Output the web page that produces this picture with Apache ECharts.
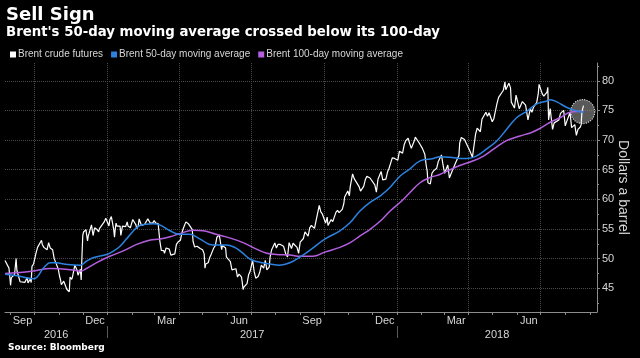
<!DOCTYPE html>
<html><head><meta charset="utf-8">
<script src="https://cdn.jsdelivr.net/npm/echarts@6/dist/echarts.min.js"></script>
<style>html,body{margin:0;padding:0;background:#000;}#c{width:640px;height:358px;}</style>
</head><body><div id="c"></div>
<script>
// ---------- DATA ----------
const seriesNames = ['Brent crude futures', 'Brent 50-day moving average', 'Brent 100-day moving average'];

const priceDates = [
'2016-08-25','2016-08-26','2016-08-30','2016-08-31','2016-09-01','2016-09-02','2016-09-06','2016-09-08','2016-09-09','2016-09-13','2016-09-15','2016-09-19','2016-09-20','2016-09-22','2016-09-23','2016-09-26','2016-09-27','2016-09-28','2016-09-30',
'2016-10-03','2016-10-05','2016-10-07','2016-10-10','2016-10-11','2016-10-13','2016-10-17','2016-10-19','2016-10-21','2016-10-24','2016-10-26','2016-10-28','2016-10-31',
'2016-11-01','2016-11-02','2016-11-03','2016-11-04','2016-11-07','2016-11-09','2016-11-11','2016-11-14','2016-11-15','2016-11-17','2016-11-18','2016-11-21','2016-11-22','2016-11-24','2016-11-25','2016-11-28','2016-11-29','2016-11-30',
'2016-12-01','2016-12-02','2016-12-05','2016-12-06','2016-12-07','2016-12-08','2016-12-09','2016-12-12','2016-12-13','2016-12-14','2016-12-15','2016-12-16','2016-12-19','2016-12-21','2016-12-22','2016-12-23','2016-12-28','2016-12-30',
'2017-01-03','2017-01-04','2017-01-06','2017-01-09','2017-01-10','2017-01-11','2017-01-12','2017-01-13','2017-01-17','2017-01-18','2017-01-19','2017-01-20','2017-01-24','2017-01-26','2017-01-27','2017-01-30','2017-01-31',
'2017-02-02','2017-02-03','2017-02-06','2017-02-07','2017-02-09','2017-02-10','2017-02-13','2017-02-15','2017-02-17','2017-02-21','2017-02-23','2017-02-24','2017-02-27',
'2017-03-01','2017-03-03','2017-03-06','2017-03-07','2017-03-08','2017-03-09','2017-03-10','2017-03-13','2017-03-14','2017-03-16','2017-03-20','2017-03-22','2017-03-24','2017-03-27','2017-03-29','2017-03-31',
'2017-04-03','2017-04-05','2017-04-07','2017-04-10','2017-04-11','2017-04-12','2017-04-13','2017-04-18','2017-04-19','2017-04-21','2017-04-24','2017-04-26','2017-04-28',
'2017-05-01','2017-05-03','2017-05-04','2017-05-05','2017-05-08','2017-05-10','2017-05-12','2017-05-15','2017-05-17','2017-05-19','2017-05-22','2017-05-24','2017-05-25','2017-05-26','2017-05-30','2017-05-31',
'2017-06-02','2017-06-05','2017-06-07','2017-06-09','2017-06-12','2017-06-14','2017-06-16','2017-06-19','2017-06-20','2017-06-21','2017-06-22','2017-06-23','2017-06-26','2017-06-28','2017-06-30',
'2017-07-03','2017-07-04','2017-07-05','2017-07-06','2017-07-07','2017-07-10','2017-07-12','2017-07-14','2017-07-17','2017-07-19','2017-07-21','2017-07-24','2017-07-25','2017-07-27','2017-07-31',
'2017-08-02','2017-08-04','2017-08-07','2017-08-09','2017-08-11','2017-08-14','2017-08-16','2017-08-18','2017-08-21','2017-08-23','2017-08-25','2017-08-28','2017-08-30',
'2017-09-01','2017-09-05','2017-09-07','2017-09-11','2017-09-13','2017-09-15','2017-09-19','2017-09-21','2017-09-25','2017-09-27','2017-09-29',
'2017-10-03','2017-10-05','2017-10-06','2017-10-10','2017-10-12','2017-10-16','2017-10-18','2017-10-20','2017-10-24','2017-10-26','2017-10-27','2017-10-31',
'2017-11-02','2017-11-03','2017-11-06','2017-11-08','2017-11-10','2017-11-14','2017-11-16','2017-11-20','2017-11-22','2017-11-24','2017-11-28','2017-11-30',
'2017-12-04','2017-12-06','2017-12-08','2017-12-12','2017-12-14','2017-12-18','2017-12-20','2017-12-22','2017-12-26','2017-12-28','2017-12-29',
'2018-01-02','2018-01-04','2018-01-08','2018-01-10','2018-01-12','2018-01-15','2018-01-17','2018-01-19','2018-01-23','2018-01-24','2018-01-25','2018-01-29','2018-01-31',
'2018-02-02','2018-02-05','2018-02-07','2018-02-08','2018-02-09','2018-02-12','2018-02-14','2018-02-16','2018-02-20','2018-02-22','2018-02-26','2018-02-28',
'2018-03-02','2018-03-06','2018-03-08','2018-03-12','2018-03-14','2018-03-16','2018-03-20','2018-03-21','2018-03-23','2018-03-27','2018-03-29',
'2018-04-03','2018-04-05','2018-04-06','2018-04-10','2018-04-12','2018-04-16','2018-04-18','2018-04-19','2018-04-23','2018-04-25','2018-04-27',
'2018-05-01','2018-05-03','2018-05-07','2018-05-09','2018-05-11','2018-05-15','2018-05-17','2018-05-18','2018-05-22','2018-05-24','2018-05-25','2018-05-29','2018-05-31',
'2018-06-04','2018-06-06','2018-06-08','2018-06-12','2018-06-14','2018-06-15','2018-06-18','2018-06-20','2018-06-22','2018-06-26','2018-06-28','2018-06-29',
'2018-07-03','2018-07-05','2018-07-06','2018-07-09','2018-07-10','2018-07-11','2018-07-13','2018-07-16','2018-07-18','2018-07-20','2018-07-24','2018-07-26','2018-07-30',
'2018-08-01','2018-08-03','2018-08-07','2018-08-09','2018-08-13','2018-08-15','2018-08-17','2018-08-20','2018-08-21','2018-08-22','2018-08-23','2018-08-24'
];
const prices = [
49.7,49.9,48.4,47.0,45.5,46.8,47.3,50.0,48.0,46.1,45.9,46.0,45.9,46.8,45.9,46.6,45.97,48.7,49.1,
50.9,51.9,52.0,53.1,52.4,51.9,51.5,52.7,51.8,51.5,50.0,49.7,48.3,
48.1,46.9,46.4,45.6,46.2,46.4,44.8,44.4,46.9,46.5,46.9,48.9,49.1,48.0,47.2,48.2,46.4,50.5,
53.9,54.5,54.9,53.9,53.0,53.9,54.3,55.7,55.7,53.9,54.0,55.2,54.9,54.5,55.05,55.2,56.2,56.8,
55.5,56.5,57.1,54.9,53.6,55.1,56.0,55.5,55.5,53.9,54.2,55.5,55.4,56.2,55.5,55.2,55.7,
56.6,56.8,55.7,55.05,55.6,56.7,55.6,55.75,55.8,56.7,56.6,56.0,56.0,
56.4,56.0,55.9,56.0,53.1,52.2,51.4,51.35,50.9,51.8,51.6,50.6,50.8,50.8,52.4,52.8,
53.1,54.4,55.2,56.2,56.2,55.9,55.9,54.9,52.9,51.96,52.1,51.8,51.7,
51.5,50.8,48.4,49.1,49.3,50.2,50.8,51.8,52.2,53.6,54.0,54.2,51.5,52.2,51.8,50.3,
49.95,49.5,48.1,48.15,48.3,46.9,47.4,46.9,46.0,44.8,45.2,45.5,45.8,47.3,47.9,
49.7,49.6,47.8,48.1,46.7,47.0,47.7,48.9,48.4,49.7,48.1,48.6,50.2,51.5,52.65,
51.8,52.4,52.4,52.7,52.1,50.7,50.3,52.7,51.7,52.6,52.4,51.9,50.9,
52.8,53.4,54.5,53.8,55.2,55.6,55.1,56.4,59.0,57.9,57.5,
56.0,57.0,55.6,56.6,56.25,57.8,58.15,57.75,58.3,59.3,60.4,61.4,
60.6,62.1,64.3,63.5,63.5,62.2,61.4,62.2,63.3,63.9,63.6,63.6,
62.45,61.2,63.4,64.7,63.3,63.4,64.6,65.25,67.0,66.7,66.9,
66.6,68.1,67.8,69.2,69.9,70.3,69.4,68.6,69.96,70.5,70.4,69.5,69.05,
68.6,67.6,65.5,64.8,62.8,62.6,64.4,64.8,65.25,66.4,67.5,65.8,
64.4,65.8,63.6,64.95,64.9,66.2,67.4,69.5,70.45,70.1,70.3,
68.1,68.3,67.1,71.0,72.0,71.4,73.5,73.8,74.7,74.0,74.6,
73.1,73.6,76.2,77.2,77.1,78.4,79.8,78.5,79.6,78.8,76.4,75.4,77.6,
75.3,75.4,76.5,75.9,75.9,73.4,75.3,74.7,75.55,76.3,77.85,79.4,
77.8,77.4,77.1,78.1,78.9,73.4,75.3,71.8,72.9,73.1,73.4,74.5,75.0,
72.4,73.2,74.65,72.1,72.6,70.8,71.8,72.2,72.6,74.8,74.7,75.8
];

const ma50Dates = ['2016-08-25','2016-09-09','2016-09-30','2016-10-13','2016-10-21','2016-10-28','2016-11-12','2016-11-28','2016-12-06','2016-12-15','2016-12-31',
'2017-01-09','2017-01-17','2017-01-25','2017-02-03','2017-02-11','2017-02-28','2017-03-08','2017-03-21','2017-04-02','2017-04-15','2017-04-28','2017-05-10','2017-05-18','2017-05-31','2017-06-11','2017-06-20','2017-06-30','2017-07-12','2017-07-25','2017-08-06','2017-08-19','2017-09-01','2017-09-13','2017-10-02','2017-10-21','2017-11-03','2017-11-15','2017-11-28','2017-12-11','2017-12-23',
'2018-01-05','2018-01-17','2018-01-30','2018-02-16','2018-02-24','2018-03-09','2018-03-21','2018-03-30','2018-04-11','2018-04-24','2018-05-07','2018-05-19','2018-06-01','2018-06-14','2018-06-26','2018-07-09','2018-07-13','2018-07-22','2018-08-03','2018-08-16','2018-08-24'];
const ma50 = [47.35,47.1,46.6,48.5,49.3,49.3,49.0,48.9,49.6,50.2,50.7,
51.3,52.1,53.3,54.7,55.6,55.9,55.7,54.7,54.1,54.1,53.3,52.4,52.3,52.3,51.85,51.0,49.9,49.4,49.1,48.9,49.3,50.3,51.4,53.3,54.7,56.1,58.0,59.5,60.6,62.0,
63.95,65.1,66.5,66.9,67.2,67.1,66.9,66.9,67.3,68.5,69.9,71.8,73.8,74.9,76.1,76.6,76.8,76.4,75.5,74.9,74.7];

const ma100Dates = ['2016-08-25','2016-09-09','2016-09-30','2016-10-21','2016-11-01','2016-11-18','2016-11-29','2016-12-05','2016-12-18',
'2017-01-04','2017-01-21','2017-02-07','2017-02-23','2017-03-08','2017-03-21','2017-04-02','2017-04-19','2017-05-02','2017-05-18','2017-06-04','2017-06-21','2017-07-08','2017-07-21','2017-08-02','2017-08-19','2017-09-01','2017-09-17','2017-10-02','2017-10-21','2017-11-03','2017-11-15','2017-11-28','2017-12-11','2017-12-23',
'2018-01-05','2018-01-17','2018-01-30','2018-02-12','2018-02-24','2018-03-09','2018-03-21','2018-04-07','2018-04-20','2018-05-03','2018-05-19','2018-06-05','2018-06-18','2018-06-30','2018-07-13','2018-07-26','2018-08-07','2018-08-16','2018-08-24'];
const ma100 = [47.5,47.6,47.9,48.35,48.3,48.1,47.9,48.3,49.3,
50.4,51.3,52.4,53.1,53.3,53.7,54.2,54.8,54.7,54.1,53.5,52.7,51.6,50.9,50.7,50.6,50.4,50.4,51.1,51.9,52.7,53.8,54.95,56.35,58.0,
59.5,61.1,62.8,63.7,64.2,65.0,65.7,66.5,67.3,68.5,69.9,70.7,71.2,71.95,73.0,73.8,74.7,74.8,74.8];

const crossPoint = ['2018-08-23', 74.8];

const yTickValues = [45, 50, 55, 60, 65, 70, 75, 80];
const yMinorTickValues = [42.5, 47.5, 52.5, 57.5, 62.5, 67.5, 72.5, 77.5, 82.5];
const monthLabels = ['Sep', 'Dec', 'Mar', 'Jun', 'Sep', 'Dec', 'Mar', 'Jun'];
const monthLabelMonths = ['2016-09', '2016-12', '2017-03', '2017-06', '2017-09', '2017-12', '2018-03', '2018-06'];
const yearLabels = ['2016', '2017', '2018'];
const xRange = ['2016-08-25', '2018-09-10'];
const yRange = [41, 83];

// ---------- BUILD ----------
const ts = s => Date.parse(s + 'T00:00:00Z');
const pairs = (d, v) => d.map((x, i) => [ts(x), v[i]]);
const xMin = ts(xRange[0]), xMax = ts(xRange[1]);

const monthStarts = [];
{
  let y = 2016, m = 0;
  while (true) {
    const t = Date.UTC(y, m, 1);
    if (t > xMax) break;
    if (t >= xMin) monthStarts.push(t);
    m++; if (m > 11) { m = 0; y++; }
  }
}
const quarterStarts = monthStarts.filter(t => new Date(t).getUTCMonth() % 3 === 0);
const monthLabelPos = monthLabelMonths.map(s => {
  const [y, m] = s.split('-').map(Number);
  return (Date.UTC(y, m - 1, 1) + Date.UTC(y, m, 1)) / 2;
});
const yearStarts = yearLabels.slice(1).map(y => Date.UTC(+y, 0, 1));
const yearPos = yearLabels.map(y => {
  const a = Math.max(xMin, Date.UTC(+y, 0, 1)), b = Math.min(xMax, Date.UTC(+y + 1, 0, 1));
  return (a + b) / 2;
});
const nearest = (v, pos, labels) => {
  let best = 0, bd = Infinity;
  pos.forEach((p, i) => { const d = Math.abs(p - v); if (d < bd) { bd = d; best = i; } });
  return labels[best];
};

const WHITE = '#ffffff', BLUE = '#2b82e0', PURPLE = '#b45fe0';
const GRID_C = '#4a4a4a', AXIS_C = '#8c8c8c', TXT = '#d6d6d6';
const SANS = 'Liberation Sans', BOLD = 'DejaVu Sans';

const chart = echarts.init(document.getElementById('c'), null, { renderer: 'canvas' });
chart.setOption({
  backgroundColor: '#000',
  animation: false,
  title: [
    { text: 'Sell Sign', subtext: "Brent's 50-day moving average crossed below its 100-day",
      left: 6, top: 6, padding: 0, itemGap: 2,
      textStyle: { color: '#fff', fontSize: 18, fontWeight: 'bold', fontFamily: BOLD },
      subtextStyle: { color: '#fff', fontSize: 13.3, fontWeight: 'bold', fontFamily: BOLD } },
    { text: 'Source: Bloomberg', left: 8, top: 343, padding: 0,
      textStyle: { color: '#fff', fontSize: 9, fontWeight: 'bold', fontFamily: BOLD } }
  ],
  legend: {
    data: seriesNames, left: 10, top: 49.5, padding: 0,
    icon: 'rect', itemWidth: 6, itemHeight: 6, itemGap: 8,
    textStyle: { color: TXT, fontSize: 10, fontFamily: SANS, padding: [0, 0, 0, -3] }
  },
  grid: { left: 5, right: 43, top: 63, bottom: 46, containLabel: false, outerBoundsMode: 'none' },
  xAxis: [
    { type: 'value', min: xMin, max: xMax, position: 'bottom',
      axisLine: { show: true, lineStyle: { color: AXIS_C, width: 1 } },
      axisTick: { show: true, customValues: monthStarts, length: 3, lineStyle: { color: AXIS_C } },
      axisLabel: { customValues: monthLabelPos, color: TXT, fontSize: 11, fontFamily: SANS, margin: 3,
        formatter: v => nearest(v, monthLabelPos, monthLabels) },
      splitLine: { show: false } },
    { type: 'value', min: xMin, max: xMax, position: 'bottom',
      axisLine: { show: false },
      axisTick: { show: false, customValues: quarterStarts },
      axisLabel: { show: false },
      splitLine: { show: true, lineStyle: { color: GRID_C, type: 'dotted', width: 1 } } },
    { type: 'value', min: xMin, max: xMax, position: 'bottom', offset: 14,
      axisLine: { show: false },
      axisTick: { show: true, customValues: yearStarts, length: 12, lineStyle: { color: '#5a5a5a' } },
      axisLabel: { customValues: yearPos, color: TXT, fontSize: 11, fontFamily: SANS, margin: 3,
        formatter: v => nearest(v, yearPos, yearLabels) },
      splitLine: { show: false } }
  ],
  yAxis: [
    { type: 'value', position: 'right', min: yRange[0], max: yRange[1],
      axisLine: { show: true, lineStyle: { color: AXIS_C, width: 1 } },
      axisTick: { show: true, customValues: yTickValues, length: 3, lineStyle: { color: AXIS_C } },
      axisLabel: { customValues: yTickValues, color: TXT, fontSize: 11, fontFamily: SANS, margin: 5 },
      splitLine: { show: true, lineStyle: { color: GRID_C, type: 'dotted', width: 1 } },
      name: 'Dollars a barrel', nameLocation: 'middle', nameRotate: -90, nameGap: 19, nameMoveOverlap: false,
      nameTextStyle: { color: TXT, fontSize: 14, fontFamily: SANS } },
    { type: 'value', position: 'right', min: yRange[0], max: yRange[1],
      axisLine: { show: false },
      axisTick: { show: true, customValues: yMinorTickValues, length: 2, lineStyle: { color: AXIS_C } },
      axisLabel: { show: false },
      splitLine: { show: false } }
  ],
  series: [
    { name: 'highlight', type: 'scatter', xAxisIndex: 0, yAxisIndex: 0, z: 1,
      data: [[ts(crossPoint[0]), crossPoint[1]]], symbol: 'circle', symbolSize: 24,
      itemStyle: { color: 'rgba(140,140,140,0.8)', borderColor: '#ffffff', borderType: 'dotted', borderWidth: 1.2 },
      silent: true },
    { name: seriesNames[0], type: 'line', xAxisIndex: 0, yAxisIndex: 0, z: 2,
      data: pairs(priceDates, prices), showSymbol: false, symbol: 'none',
      color: WHITE, itemStyle: { color: WHITE }, lineStyle: { color: WHITE, width: 1.2 } },
    { name: seriesNames[2], type: 'line', xAxisIndex: 0, yAxisIndex: 0, z: 3,
      data: pairs(ma100Dates, ma100), showSymbol: false, symbol: 'none', smooth: 0.4,
      color: PURPLE, itemStyle: { color: PURPLE }, lineStyle: { color: PURPLE, width: 1.5 } },
    { name: seriesNames[1], type: 'line', xAxisIndex: 0, yAxisIndex: 0, z: 4,
      data: pairs(ma50Dates, ma50), showSymbol: false, symbol: 'none', smooth: 0.4,
      color: BLUE, itemStyle: { color: BLUE }, lineStyle: { color: BLUE, width: 1.5 } }
  ]
});
</script>
</body></html>
